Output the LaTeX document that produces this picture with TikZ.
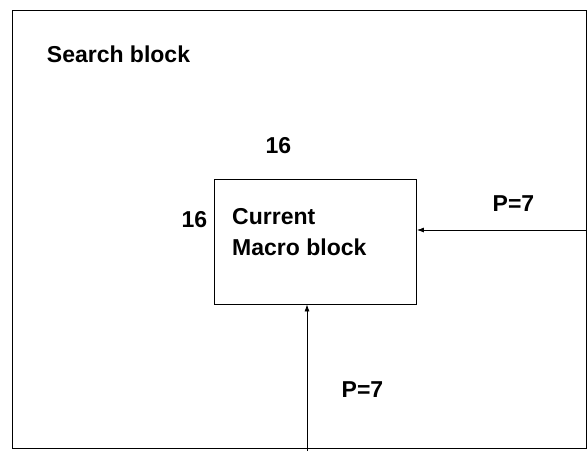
\documentclass[tikz,border=0pt]{standalone}
\usepackage{fontspec}
\setmainfont{Liberation Sans}
\usetikzlibrary{arrows.meta}
\tikzstyle{frame}=[draw=black, line width=0.9pt]
\tikzstyle{block}=[rectangle, draw=black, line width=0.8pt, minimum width=202pt, minimum height=125pt, inner sep=0pt]
\tikzstyle{lbl}=[font=\fontsize{23}{31}\selectfont\bfseries, inner sep=0pt, anchor=base]
\tikzstyle{feed}=[draw=black, line width=0.8pt, -{Latex[length=7pt,width=5pt]}]

\begin{document}
\begin{tikzpicture}[x=1pt, y=-1pt]
	\useasboundingbox (0,0) rectangle (587,451);
	% search area
	\draw [style=frame] (12,10) rectangle (586,448);
	\node [style=lbl] (search) at (118.5,62) {Search block};
	% current macro block
	\node [style=block] (mb) at (315.5,241.5) {};
	\node [style=lbl] (w) at (278.5,153) {16};
	\node [style=lbl] (h) at (194.5,227) {16};
	\node [style=lbl, anchor=base west, align=left] (name) at (232,255) {Current\\Macro block};
	% search range
	\coordinate (rin) at (587,230);
	\coordinate (bin) at (307,451);
	\draw [style=feed] (rin) to (rin -| mb.east);
	\draw [style=feed] (bin) to (bin |- mb.south);
	\node [style=lbl] (pr) at (513.5,211.5) {P=7};
	\node [style=lbl] (pb) at (362.5,397) {P=7};
\end{tikzpicture}
\end{document}
